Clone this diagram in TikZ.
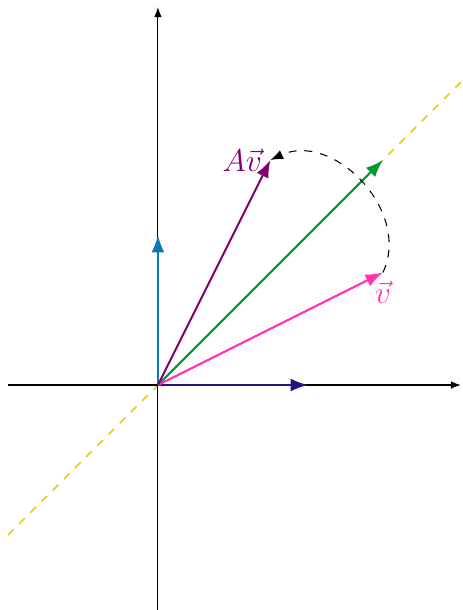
\documentclass[tikz,border=0pt]{standalone}
\usepackage{xcolor}
\usepackage{tikz}
\usetikzlibrary{arrows.meta, positioning}

\definecolor{vecblue}{RGB}{16,118,182}
\definecolor{vecnavy}{RGB}{36,20,130}
\definecolor{vecgreen}{RGB}{0,153,51}
\definecolor{vecpink}{RGB}{255,51,180}
\definecolor{vecpurple}{RGB}{128,0,110}
\definecolor{lineyellow}{RGB}{228,208,0}

\begin{document}
\begin{tikzpicture}[
  x=2cm, y=2cm,
  axis/.style={-{Latex[scale=0.8]}, black},
  vec/.style={-{Latex}, thick},
  diag/.style={dashed, semithick, color=lineyellow},
  veclabel/.style={font=\large, inner sep=2pt},
]
  \useasboundingbox (-1.053,-1.5) rectangle (2.033,2.567);

  % axes and the line y = x
  \coordinate (o) at (0,0);
  \coordinate (xl) at (-1,0);
  \coordinate (xr) at (2.02,0);
  \coordinate (yb) at (0,-1.5);
  \coordinate (yt) at (0,2.52);
  \coordinate (dl) at (-1,-1);
  \coordinate (dr) at (2.02,2.02);

  % vectors
  \coordinate (e1) at (1,0);
  \coordinate (e2) at (0,1);
  \coordinate (w) at (1.5,1.5);
  \coordinate (v) at (1.5,0.75);
  \coordinate (av) at (0.75,1.5);

  \draw[diag] (dl) -- (dr);
  \draw[axis] (xl) -- (xr);
  \draw[axis] (yb) -- (yt);

  \draw[vec, vecblue] (o) -- (e2);
  \draw[vec, vecnavy] (o) -- (e1);
  \draw[vec, vecgreen] (o) -- (w);
  \draw[vec, vecpink] (o) -- (v);
  \draw[vec, vecpurple] (o) -- (av);

  \node[veclabel, left=1pt of av, text=vecpurple] (avlabel) {$A\vec{v}$};
  \node[veclabel, below=1pt of v, text=vecpink] (vlabel) {$\vec{v}$};

  \draw[dashed, -{Latex}] (v) to[out=65, in=25, looseness=1.1] (av);
\end{tikzpicture}
\end{document}
